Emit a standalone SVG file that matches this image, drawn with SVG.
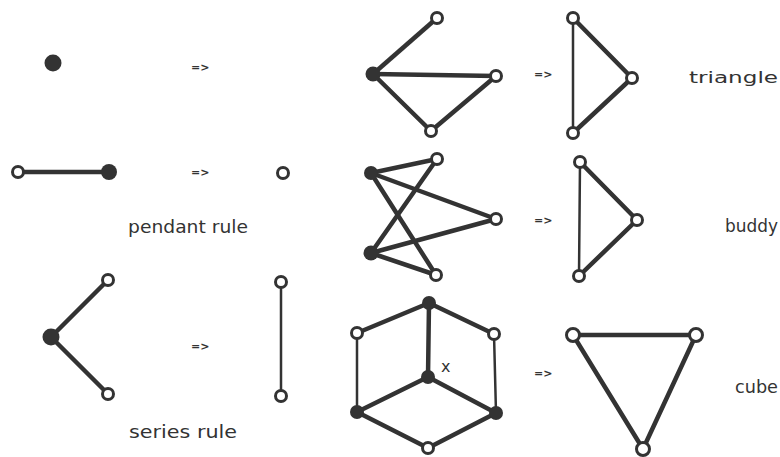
<svg xmlns="http://www.w3.org/2000/svg" width="780" height="457" viewBox="0 0 780 457">
<style>
.e{stroke:#333;stroke-width:4.5;stroke-linecap:round;fill:none}
.t{stroke-width:2.5}
.o{fill:#fff;stroke:#333;stroke-width:3}
.f{fill:#333}
.lb{font-family:"DejaVu Sans",sans-serif;font-size:18px;fill:#333}
.ar{font-family:"DejaVu Sans",sans-serif;font-size:11px;font-weight:bold;fill:#333}
</style>
<rect width="780" height="457" fill="#fff"/>
<g id="connectors">
<line class="e" x1="18" y1="172" x2="109" y2="172"/>
<line class="e" x1="51" y1="337" x2="108" y2="280"/>
<line class="e" x1="51" y1="337" x2="108" y2="394"/>
<line class="e t" x1="281" y1="282" x2="281" y2="396"/>
<line class="e" x1="373" y1="74" x2="437" y2="18"/>
<line class="e" x1="373" y1="74" x2="496" y2="76"/>
<line class="e" x1="373" y1="74" x2="431" y2="131"/>
<line class="e" x1="496" y1="76" x2="431" y2="131"/>
<line class="e t" x1="573" y1="18" x2="573" y2="133"/>
<line class="e" x1="573" y1="18" x2="632" y2="78"/>
<line class="e" x1="573" y1="133" x2="632" y2="78"/>
<line class="e" x1="371" y1="173" x2="437" y2="159"/>
<line class="e" x1="371" y1="173" x2="496" y2="219"/>
<line class="e" x1="371" y1="173" x2="436" y2="275"/>
<line class="e" x1="371" y1="253" x2="437" y2="159"/>
<line class="e" x1="371" y1="253" x2="496" y2="219"/>
<line class="e" x1="371" y1="253" x2="436" y2="275"/>
<line class="e t" x1="580" y1="162" x2="579" y2="276"/>
<line class="e" x1="580" y1="162" x2="637" y2="220"/>
<line class="e" x1="579" y1="276" x2="637" y2="220"/>
<line class="e" x1="429" y1="303" x2="357" y2="333"/>
<line class="e" x1="429" y1="303" x2="494" y2="334"/>
<line class="e" x1="429" y1="303" x2="428" y2="377"/>
<line class="e t" x1="357" y1="333" x2="357" y2="412"/>
<line class="e t" x1="494" y1="334" x2="496" y2="413"/>
<line class="e" x1="428" y1="377" x2="357" y2="412"/>
<line class="e" x1="428" y1="377" x2="496" y2="413"/>
<line class="e" x1="357" y1="412" x2="428" y2="448"/>
<line class="e" x1="496" y1="413" x2="428" y2="448"/>
<line class="e" x1="573" y1="335" x2="696" y2="335"/>
<line class="e" x1="573" y1="335" x2="643" y2="449"/>
<line class="e" x1="696" y1="335" x2="643" y2="449"/>
</g>
<g id="n-single"><circle class="f" cx="53" cy="63" r="8.5"/></g>
<g id="n-pend-a"><circle class="o" cx="18" cy="172" r="5.5"/></g>
<g id="n-pend-b"><circle class="f" cx="109" cy="172" r="8"/></g>
<g id="n-pend-r"><circle class="o" cx="283" cy="173" r="5.5"/></g>
<g id="n-ser-c"><circle class="f" cx="51" cy="337" r="8.5"/></g>
<g id="n-ser-t"><circle class="o" cx="108" cy="280" r="5.5"/></g>
<g id="n-ser-b"><circle class="o" cx="108" cy="394" r="5.5"/></g>
<g id="n-ser-rt"><circle class="o" cx="281" cy="282" r="5.5"/></g>
<g id="n-ser-rb"><circle class="o" cx="281" cy="396" r="5.5"/></g>
<g id="n-tri-c"><circle class="f" cx="373" cy="74" r="7.5"/></g>
<g id="n-tri-t"><circle class="o" cx="437" cy="18" r="5.5"/></g>
<g id="n-tri-r"><circle class="o" cx="496" cy="76" r="5.5"/></g>
<g id="n-tri-b"><circle class="o" cx="431" cy="131" r="5.5"/></g>
<g id="n-tri-rt"><circle class="o" cx="573" cy="18" r="5.5"/></g>
<g id="n-tri-rr"><circle class="o" cx="632" cy="78" r="5.5"/></g>
<g id="n-tri-rb"><circle class="o" cx="573" cy="133" r="5.5"/></g>
<g id="n-bud-f1"><circle class="f" cx="371" cy="173" r="7"/></g>
<g id="n-bud-f2"><circle class="f" cx="371" cy="253" r="7.5"/></g>
<g id="n-bud-t"><circle class="o" cx="437" cy="159" r="5.5"/></g>
<g id="n-bud-r"><circle class="o" cx="496" cy="219" r="5.5"/></g>
<g id="n-bud-b"><circle class="o" cx="436" cy="275" r="5.5"/></g>
<g id="n-bud-rt"><circle class="o" cx="580" cy="162" r="5.5"/></g>
<g id="n-bud-rr"><circle class="o" cx="637" cy="220" r="5.5"/></g>
<g id="n-bud-rb"><circle class="o" cx="579" cy="276" r="5.5"/></g>
<g id="n-cube-top"><circle class="f" cx="429" cy="303" r="7"/></g>
<g id="n-cube-l"><circle class="o" cx="357" cy="333" r="5.5"/></g>
<g id="n-cube-r"><circle class="o" cx="494" cy="334" r="5.5"/></g>
<g id="n-cube-x"><circle class="f" cx="428" cy="377" r="7"/></g>
<g id="n-cube-bl"><circle class="f" cx="357" cy="412" r="7"/></g>
<g id="n-cube-br"><circle class="f" cx="496" cy="413" r="7"/></g>
<g id="n-cube-b"><circle class="o" cx="428" cy="448" r="5.5"/></g>
<g id="n-cube-rl"><circle class="o" cx="573" cy="335" r="6.5"/></g>
<g id="n-cube-rr"><circle class="o" cx="696" cy="335" r="6.5"/></g>
<g id="n-cube-rb"><circle class="o" cx="643" cy="449" r="6.5"/></g>
<g id="labels">
<text class="ar" x="191" y="71">=&gt;</text>
<text class="ar" x="191" y="176">=&gt;</text>
<text class="ar" x="191" y="350">=&gt;</text>
<text class="ar" x="534" y="78">=&gt;</text>
<text class="ar" x="534" y="224">=&gt;</text>
<text class="ar" x="534" y="377">=&gt;</text>
<text class="lb" x="128" y="233" textLength="120" lengthAdjust="spacingAndGlyphs">pendant rule</text>
<text class="lb" x="129" y="438" textLength="108" lengthAdjust="spacingAndGlyphs">series rule</text>
<text class="lb" x="689" y="83" style="font-size:16px" textLength="89" lengthAdjust="spacingAndGlyphs">triangle</text>
<text class="lb" x="725" y="232" style="font-size:17px" textLength="53" lengthAdjust="spacingAndGlyphs">buddy</text>
<text class="lb" x="735" y="393" textLength="43" lengthAdjust="spacingAndGlyphs">cube</text>
<text class="lb" x="441" y="372" style="font-size:16px">x</text>
</g>
</svg>
